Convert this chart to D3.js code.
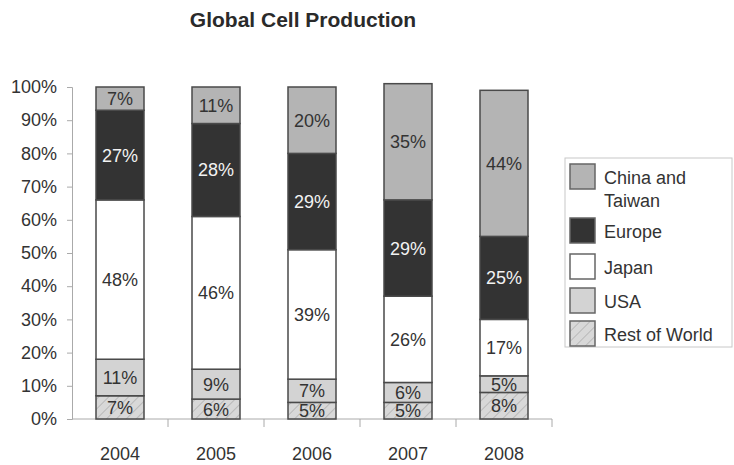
<!DOCTYPE html>
<html>
<head>
<meta charset="utf-8">
<script src="https://cdn.jsdelivr.net/npm/d3@7"></script>
<style>
  html, body { margin: 0; padding: 0; background: #fff; }
  svg { display: block; font-family: "Liberation Sans", Arial, sans-serif; }
</style>
</head>
<body>
<svg id="chart" width="734" height="465"></svg>
<script>
// Share of global cell production by region, percent
const years = ["2004", "2005", "2006", "2007", "2008"];
const restOfWorld = [7, 6, 5, 5, 8];
const usa = [11, 9, 7, 6, 5];
const japan = [48, 46, 39, 26, 17];
const europe = [27, 28, 29, 29, 25];
const chinaTaiwan = [7, 11, 20, 35, 44];
const yTicks = [0, 10, 20, 30, 40, 50, 60, 70, 80, 90, 100];

// Stacking order, bottom to top
const series = [
  { key: "Rest of World", values: restOfWorld, fill: "url(#hatch)", text: "#333" },
  { key: "USA", values: usa, fill: "#d3d3d3", text: "#333" },
  { key: "Japan", values: japan, fill: "#ffffff", text: "#333" },
  { key: "Europe", values: europe, fill: "#333333", text: "#f2f2f2" },
  { key: "China and Taiwan", values: chinaTaiwan, fill: "#b4b4b4", text: "#333" }
];

const rows = years.map((y, i) => {
  const r = { year: y };
  series.forEach(s => { r[s.key] = s.values[i]; });
  return r;
});
const stacked = d3.stack().keys(series.map(s => s.key))(rows);

const svg = d3.select("#chart");
const FONT = "Liberation Sans, Arial, sans-serif";
const x = d3.scaleBand().domain(years).range([72, 552]).paddingInner(0.5).paddingOuter(0.25);
const y = d3.scaleLinear().domain([0, 100]).range([419, 87]);

// Diagonal hatch for the Rest of World segment
const defs = svg.append("defs");
const pat = defs.append("pattern")
  .attr("id", "hatch").attr("patternUnits", "userSpaceOnUse")
  .attr("width", 7).attr("height", 7)
  .attr("patternTransform", "rotate(45)");
pat.append("rect").attr("width", 7).attr("height", 7).attr("fill", "#d8d8d8");
pat.append("line").attr("x1", 0).attr("y1", 0).attr("x2", 0).attr("y2", 7)
  .attr("stroke", "#9a9a9a").attr("stroke-width", 1);

// Title
svg.append("text")
  .attr("x", 303).attr("y", 27)
  .attr("text-anchor", "middle")
  .attr("font-weight", "bold").attr("font-size", 21).attr("fill", "#2a2a2a")
  .text("Global Cell Production");

// Y axis
const yAxis = d3.axisLeft(y).tickValues(yTicks).tickFormat(d => d + "%").tickSize(5).tickPadding(10);
const gy = svg.append("g").attr("transform", "translate(72,0)").call(yAxis);
gy.select(".domain").attr("stroke", "#aaa");
gy.selectAll(".tick line").attr("stroke", "#aaa");
gy.selectAll(".tick text").attr("font-size", 18).attr("fill", "#333").attr("font-family", FONT);

// X axis with tick marks between categories
const xAxis = d3.axisBottom(x).tickSize(0).tickPadding(28);
const gx = svg.append("g").attr("transform", "translate(0,419)").call(xAxis);
gx.select(".domain").attr("stroke", "#aaa").attr("d", "M72,0H552");
gx.selectAll(".tick text").attr("font-size", 18).attr("fill", "#333").attr("font-family", FONT);
const step = x.step();
const bounds = d3.range(years.length + 1).map(i => 72 + i * step);
gx.selectAll("line.sep").data(bounds.slice(1)).enter().append("line")
  .attr("class", "sep")
  .attr("x1", d => d).attr("x2", d => d).attr("y1", 0).attr("y2", 8)
  .attr("stroke", "#aaa");

// Stacked bars
const layer = svg.append("g").selectAll("g").data(stacked).enter().append("g");
layer.selectAll("rect").data((d, i) => d.map(p => ({ p, s: series[i] }))).enter().append("rect")
  .attr("x", d => x(d.p.data.year))
  .attr("width", x.bandwidth())
  .attr("y", d => y(d.p[1]))
  .attr("height", d => y(d.p[0]) - y(d.p[1]))
  .attr("fill", d => d.s.fill)
  .attr("stroke", "#4a4a4a").attr("stroke-width", 1.5);

// Value labels
layer.selectAll("text").data((d, i) => d.map(p => ({ p, s: series[i] }))).enter().append("text")
  .attr("x", d => x(d.p.data.year) + x.bandwidth() / 2)
  .attr("y", d => (y(d.p[0]) + y(d.p[1])) / 2)
  .attr("dy", "0.36em")
  .attr("text-anchor", "middle")
  .attr("font-size", 18)
  .attr("fill", d => d.s.text)
  .text(d => (d.p[1] - d.p[0]) + "%");

// Legend, top entry first
const legend = svg.append("g");
legend.append("rect").attr("x", 565).attr("y", 158).attr("width", 167).attr("height", 189)
  .attr("fill", "#fff").attr("stroke", "#c8c8c8");
const legendItems = series.slice().reverse();
const swatchY = [164, 218, 254, 288, 321];
legendItems.forEach((s, i) => {
  const g = legend.append("g").attr("transform", `translate(570,${swatchY[i]})`);
  g.append("rect").attr("width", 25).attr("height", 25)
    .attr("fill", s.fill).attr("stroke", "#666").attr("stroke-width", 1.5);
  const t = g.append("text").attr("x", 34).attr("font-size", 18).attr("fill", "#333");
  if (s.key === "China and Taiwan") {
    t.append("tspan").attr("x", 34).attr("y", 20).text("China and");
    t.append("tspan").attr("x", 34).attr("y", 43).text("Taiwan");
  } else {
    t.attr("y", 20).text(s.key);
  }
});
</script>
</body>
</html>
